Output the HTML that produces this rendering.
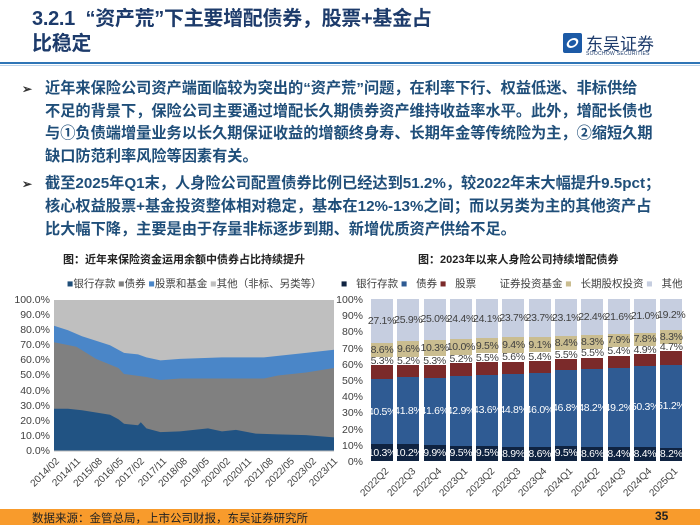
<!DOCTYPE html>
<html><head><meta charset="utf-8"><style>
*{margin:0;padding:0;box-sizing:border-box}
body{width:700px;height:525px;overflow:hidden;background:#fff;font-family:"Liberation Sans","Noto Sans CJK SC",sans-serif;position:relative}
.a{position:absolute;white-space:nowrap}
.title{left:32px;top:7px;font-size:20px;font-weight:bold;color:#1d3b6b;line-height:25px;letter-spacing:-0.3px}
.body{left:22px;top:78px;font-size:15.2px;font-weight:bold;color:#1f4e79;line-height:22.6px}
.body p{position:relative;padding-left:23px;margin-bottom:5px;white-space:nowrap}
.body p:before{content:"➢";position:absolute;left:0;top:0;color:#333;font-size:12px}
.yl{font-size:10.5px;color:#404040;text-align:right}
.xl{font-size:10px;color:#404040;transform-origin:100% 0;transform:rotate(-45deg)}
.bars{position:absolute;left:371px;top:299px;height:162px;display:flex;gap:4.3px}
.bar{width:22px;height:162px;display:flex;flex-direction:column-reverse}
.bar div{display:flex;align-items:center;justify-content:center;font-size:10.5px;letter-spacing:-0.3px;overflow:visible;white-space:nowrap}
.k{background:#0f2341;color:#fff}.b{background:#2f5b93;color:#fff}.s{background:#7b2a2a}.f{background:#fff;color:#404040}.l{background:#cabd90;color:#404040}.o{background:#c6cee0;color:#404040}
.lg{font-size:10.5px;color:#404040}
</style></head><body>
<div class="a title">3.2.1&nbsp;&nbsp;“资产荒”下主要增配债券，股票+基金占<br>比稳定</div>
<div class="a" style="left:563px;top:33px;width:19px;height:20px;background:#1c5aa6;border-radius:2px"></div>
<div class="a" style="left:567px;top:38px;width:11px;height:10px;border:2px solid #fff;border-radius:50%;transform:skew(-20deg)"></div>
<div class="a" style="left:586px;top:30px;font-size:17px;color:#1d3b6b">东吴证券</div>
<div class="a" style="left:586px;top:51px;font-size:5px;color:#1d3b6b;letter-spacing:.3px">SOOCHOW SECURITIES</div>
<div class="a" style="left:0;top:62px;width:700px;height:2px;background:#2e75b6"></div>
<div class="a" style="left:0;top:65px;width:700px;height:1px;background:#bcd3ea"></div>
<div class="a body">
<p>近年来保险公司资产端面临较为突出的“资产荒”问题，在利率下行、权益低迷、非标供给<br>不足的背景下，保险公司主要通过增配长久期债券资产维持收益率水平。此外，增配长债也<br>与①负债端增量业务以长久期保证收益的增额终身寿、长期年金等传统险为主，②缩短久期<br>缺口防范利率风险等因素有关。</p>
<p>截至2025年Q1末，人身险公司配置债券比例已经达到51.2%，较2022年末大幅提升9.5pct；<br>核心权益股票+基金投资整体相对稳定，基本在12%-13%之间；而以另类为主的其他资产占<br>比大幅下降，主要是由于存量非标逐步到期、新增优质资产供给不足。</p>
</div>
<div class="a" style="left:63px;top:251px;font-size:11px;font-weight:bold;color:#222">图：近年来保险资金运用余额中债券占比持续提升</div>
<div class="a" style="left:418px;top:251px;font-size:11px;font-weight:bold;color:#222">图：2023年以来人身险公司持续增配债券</div>

<div class="a lg" style="left:67px;top:276px"><span style="color:#1f4e79">■</span>银行存款 <span style="color:#808080">■</span>债券 <span style="color:#4a86c8">■</span>股票和基金 <span style="color:#bfbfbf">■</span>其他（非标、另类等）</div>
<svg class="a" style="left:0;top:0" width="340" height="470">
<rect x="54" y="300" width="280" height="151" fill="#bfbfbf"/>
<polygon fill="#4a86c8" points="54,451 54,325.7 68,330.2 82,336.2 110,345.3 124,352.9 138,354.4 146.4,357.4 160.4,360.4 180,358.9 222,357.4 264,357.4 278,355.9 306,352.9 334,349.8 334,451"/>
<polygon fill="#808080" points="54,451 54,342.3 76.4,346.8 96,358.9 118.4,368 124,374 146.4,377 160.4,380 180,378.5 222,378.5 264,378.5 278,375.5 306,372.5 334,368 334,451"/>
<polygon fill="#215383" points="54,451 54,408.7 68,408.7 82,410.2 110,414.8 118.4,419.3 124,423.8 138,425.3 140.8,422.3 146.4,428.4 160.4,432.1 180,431.4 208,428.4 222,431.4 236,429.9 255.6,433.6 278,434.4 306,435.1 334,437.4 334,451"/>
<line x1="54" y1="451" x2="334" y2="451" stroke="#bbb"/>
</svg>
<div class="a yl" style="left:4px;top:293px;width:46px;line-height:15.1px">100.0%<br>90.0%<br>80.0%<br>70.0%<br>60.0%<br>50.0%<br>40.0%<br>30.0%<br>20.0%<br>10.0%<br>0.0%</div>
<div class="a xl" style="right:646px;top:456px">2014/02</div>
<div class="a xl" style="right:624.6px;top:456px">2014/11</div>
<div class="a xl" style="right:603.2px;top:456px">2015/08</div>
<div class="a xl" style="right:581.8px;top:456px">2016/05</div>
<div class="a xl" style="right:560.4px;top:456px">2017/02</div>
<div class="a xl" style="right:539px;top:456px">2017/11</div>
<div class="a xl" style="right:517.6px;top:456px">2018/08</div>
<div class="a xl" style="right:496.2px;top:456px">2019/05</div>
<div class="a xl" style="right:474.8px;top:456px">2020/02</div>
<div class="a xl" style="right:453.4px;top:456px">2020/11</div>
<div class="a xl" style="right:432px;top:456px">2021/08</div>
<div class="a xl" style="right:410.6px;top:456px">2022/05</div>
<div class="a xl" style="right:389.2px;top:456px">2023/02</div>
<div class="a xl" style="right:367.8px;top:456px">2023/11</div>

<div class="a lg" style="left:341px;top:276px"><span style="color:#0f2341">■</span>&nbsp;&nbsp;&nbsp;银行存款&nbsp;<span style="color:#2f5b93">■</span>&nbsp;&nbsp;&nbsp;债券&nbsp;<span style="color:#7b2a2a">■</span>&nbsp;&nbsp;&nbsp;股票&nbsp;&nbsp;&nbsp;&nbsp;&nbsp;&nbsp;&nbsp;&nbsp;证券投资基金&nbsp;<span style="color:#cabd90">■</span>&nbsp;&nbsp;&nbsp;长期股权投资&nbsp;<span style="color:#c6cee0">■</span>&nbsp;&nbsp;&nbsp;其他</div>
<div class="a yl" style="left:330px;top:292px;width:33px;line-height:16.2px">100%<br>90%<br>80%<br>70%<br>60%<br>50%<br>40%<br>30%<br>20%<br>10%<br>0%</div>
<div class="bars">
<div class="bar"><div class="k" style="height:10.3%">10.3%</div><div class="b" style="height:40.5%">40.5%</div><div class="s" style="height:8.2%"></div><div class="f" style="height:5.3%">5.3%</div><div class="l" style="height:8.6%">8.6%</div><div class="o" style="height:27.1%">27.1%</div></div>
<div class="bar"><div class="k" style="height:10.2%">10.2%</div><div class="b" style="height:41.8%">41.8%</div><div class="s" style="height:7.3%"></div><div class="f" style="height:5.2%">5.2%</div><div class="l" style="height:9.6%">9.6%</div><div class="o" style="height:25.9%">25.9%</div></div>
<div class="bar"><div class="k" style="height:9.9%">9.9%</div><div class="b" style="height:41.6%">41.6%</div><div class="s" style="height:7.9%"></div><div class="f" style="height:5.3%">5.3%</div><div class="l" style="height:10.3%">10.3%</div><div class="o" style="height:25.0%">25.0%</div></div>
<div class="bar"><div class="k" style="height:9.5%">9.5%</div><div class="b" style="height:42.9%">42.9%</div><div class="s" style="height:8.0%"></div><div class="f" style="height:5.2%">5.2%</div><div class="l" style="height:10.0%">10.0%</div><div class="o" style="height:24.4%">24.4%</div></div>
<div class="bar"><div class="k" style="height:9.5%">9.5%</div><div class="b" style="height:43.6%">43.6%</div><div class="s" style="height:7.8%"></div><div class="f" style="height:5.5%">5.5%</div><div class="l" style="height:9.5%">9.5%</div><div class="o" style="height:24.1%">24.1%</div></div>
<div class="bar"><div class="k" style="height:8.9%">8.9%</div><div class="b" style="height:44.8%">44.8%</div><div class="s" style="height:7.6%"></div><div class="f" style="height:5.6%">5.6%</div><div class="l" style="height:9.4%">9.4%</div><div class="o" style="height:23.7%">23.7%</div></div>
<div class="bar"><div class="k" style="height:8.6%">8.6%</div><div class="b" style="height:46.0%">46.0%</div><div class="s" style="height:7.2%"></div><div class="f" style="height:5.4%">5.4%</div><div class="l" style="height:9.1%">9.1%</div><div class="o" style="height:23.7%">23.7%</div></div>
<div class="bar"><div class="k" style="height:9.5%">9.5%</div><div class="b" style="height:46.8%">46.8%</div><div class="s" style="height:6.7%"></div><div class="f" style="height:5.5%">5.5%</div><div class="l" style="height:8.4%">8.4%</div><div class="o" style="height:23.1%">23.1%</div></div>
<div class="bar"><div class="k" style="height:8.6%">8.6%</div><div class="b" style="height:48.2%">48.2%</div><div class="s" style="height:7.0%"></div><div class="f" style="height:5.5%">5.5%</div><div class="l" style="height:8.3%">8.3%</div><div class="o" style="height:22.4%">22.4%</div></div>
<div class="bar"><div class="k" style="height:8.4%">8.4%</div><div class="b" style="height:49.2%">49.2%</div><div class="s" style="height:7.5%"></div><div class="f" style="height:5.4%">5.4%</div><div class="l" style="height:7.9%">7.9%</div><div class="o" style="height:21.6%">21.6%</div></div>
<div class="bar"><div class="k" style="height:8.4%">8.4%</div><div class="b" style="height:50.3%">50.3%</div><div class="s" style="height:7.6%"></div><div class="f" style="height:4.9%">4.9%</div><div class="l" style="height:7.8%">7.8%</div><div class="o" style="height:21.0%">21.0%</div></div>
<div class="bar"><div class="k" style="height:8.2%">8.2%</div><div class="b" style="height:51.2%">51.2%</div><div class="s" style="height:8.4%"></div><div class="f" style="height:4.7%">4.7%</div><div class="l" style="height:8.3%">8.3%</div><div class="o" style="height:19.2%">19.2%</div></div>
</div>
<div class="a xl" style="right:316px;top:466px">2022Q2</div>
<div class="a xl" style="right:289.7px;top:466px">2022Q3</div>
<div class="a xl" style="right:263.5px;top:466px">2022Q4</div>
<div class="a xl" style="right:237.2px;top:466px">2023Q1</div>
<div class="a xl" style="right:210.9px;top:466px">2023Q2</div>
<div class="a xl" style="right:184.7px;top:466px">2023Q3</div>
<div class="a xl" style="right:158.4px;top:466px">2023Q4</div>
<div class="a xl" style="right:132.1px;top:466px">2024Q1</div>
<div class="a xl" style="right:105.8px;top:466px">2024Q2</div>
<div class="a xl" style="right:79.6px;top:466px">2024Q3</div>
<div class="a xl" style="right:53.3px;top:466px">2024Q4</div>
<div class="a xl" style="right:27px;top:466px">2025Q1</div>

<div class="a" style="left:0;top:509px;width:700px;height:16px;background:#f89b2c"></div>
<div class="a" style="left:32px;top:510px;font-size:11.5px;color:#222">数据来源：金管总局，上市公司财报，东吴证券研究所</div>
<div class="a" style="left:655px;top:509px;font-size:12px;font-weight:bold;color:#222">35</div>
</body></html>
